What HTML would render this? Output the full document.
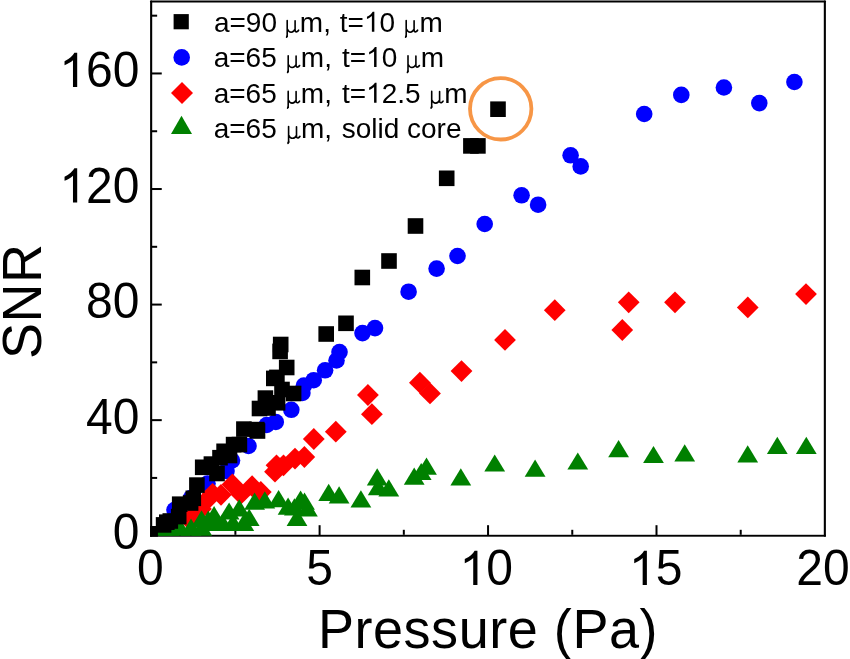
<!DOCTYPE html>
<html><head><meta charset="utf-8"><style>
html,body{margin:0;padding:0;background:#fff;}
body{width:850px;height:659px;overflow:hidden;font-family:"Liberation Sans",sans-serif;}
svg{display:block;}
svg{will-change:transform;}
</style></head><body>
<svg width="850" height="659" viewBox="0 0 850 659">
<rect width="850" height="659" fill="#fff"/>
<defs><clipPath id="pc"><rect x="150.1" y="0.5" width="675.8" height="536.2"/></clipPath></defs>
<g fill="#000">
<rect x="150.1" y="0.5" width="675.8" height="2.1" rx="0.8"/>
<rect x="150.1" y="0.5" width="2.1" height="536.2" rx="0.8"/>
<rect x="823.8" y="0.5" width="2.1" height="536.2" rx="0.8"/>
<rect x="150.1" y="534.8" width="675.8" height="1.9"/>
<rect x="318.60" y="525.20" width="2" height="10"/><rect x="487.05" y="525.20" width="2" height="10"/><rect x="655.50" y="525.20" width="2" height="10"/><rect x="234.38" y="529.80" width="2" height="5"/><rect x="402.82" y="529.80" width="2" height="5"/><rect x="571.27" y="529.80" width="2" height="5"/><rect x="739.72" y="529.80" width="2" height="5"/><rect x="151.15" y="419.14" width="10.6" height="2"/><rect x="151.15" y="303.58" width="10.6" height="2"/><rect x="151.15" y="188.02" width="10.6" height="2"/><rect x="151.15" y="72.46" width="10.6" height="2"/><rect x="151.15" y="476.92" width="6" height="2"/><rect x="151.15" y="361.36" width="6" height="2"/><rect x="151.15" y="245.80" width="6" height="2"/><rect x="151.15" y="130.24" width="6" height="2"/><rect x="151.15" y="14.68" width="6" height="2"/>
</g>
<g clip-path="url(#pc)">
<g fill="#0000ff"><circle cx="794.4" cy="82.0" r="8.3"/><circle cx="759.3" cy="103.1" r="8.3"/><circle cx="723.9" cy="87.5" r="8.3"/><circle cx="681.3" cy="94.9" r="8.3"/><circle cx="644.2" cy="114.0" r="8.3"/><circle cx="580.7" cy="166.4" r="8.3"/><circle cx="570.6" cy="155.3" r="8.3"/><circle cx="538.1" cy="204.7" r="8.3"/><circle cx="521.6" cy="195.3" r="8.3"/><circle cx="484.7" cy="224.0" r="8.3"/><circle cx="457.5" cy="256.0" r="8.3"/><circle cx="436.6" cy="268.6" r="8.3"/><circle cx="408.6" cy="291.7" r="8.3"/><circle cx="375.0" cy="328.1" r="8.3"/><circle cx="362.5" cy="333.1" r="8.3"/><circle cx="339.5" cy="352.1" r="8.3"/><circle cx="336.5" cy="360.5" r="8.3"/><circle cx="325.1" cy="370.3" r="8.3"/><circle cx="313.7" cy="380.2" r="8.3"/><circle cx="303.9" cy="385.5" r="8.3"/><circle cx="302.4" cy="393.0" r="8.3"/><circle cx="291.3" cy="409.8" r="8.3"/><circle cx="275.8" cy="422.0" r="8.3"/><circle cx="266.7" cy="425.0" r="8.3"/><circle cx="248.5" cy="446.0" r="8.3"/><circle cx="232.0" cy="460.5" r="8.3"/><circle cx="226.5" cy="471.0" r="8.3"/><circle cx="207.5" cy="483.5" r="8.3"/><circle cx="191.0" cy="498.0" r="8.3"/><circle cx="174.5" cy="510.0" r="8.3"/></g>
<g fill="#ff0000"><path d="M806.0 283.2L816.9 294.1L806.0 305.0L795.1 294.1Z"/><path d="M747.8 296.5L758.6 307.4L747.8 318.2L736.9 307.4Z"/><path d="M675.0 291.4L685.9 302.3L675.0 313.2L664.1 302.3Z"/><path d="M628.7 291.4L639.6 302.3L628.7 313.2L617.9 302.3Z"/><path d="M622.3 319.1L633.1 330.0L622.3 340.9L611.4 330.0Z"/><path d="M554.8 299.3L565.6 310.2L554.8 321.1L543.9 310.2Z"/><path d="M505.0 329.0L515.9 339.9L505.0 350.8L494.1 339.9Z"/><path d="M461.5 360.2L472.4 371.1L461.5 382.0L450.6 371.1Z"/><path d="M419.9 371.8L430.8 382.7L419.9 393.6L409.0 382.7Z"/><path d="M430.0 382.5L440.9 393.4L430.0 404.2L419.1 393.4Z"/><path d="M367.9 384.1L378.8 395.0L367.9 405.9L357.0 395.0Z"/><path d="M371.9 403.3L382.8 414.2L371.9 425.1L361.0 414.2Z"/><path d="M335.8 420.8L346.7 431.7L335.8 442.6L324.9 431.7Z"/><path d="M313.8 428.1L324.7 439.0L313.8 449.9L302.9 439.0Z"/><path d="M304.4 446.1L315.2 457.0L304.4 467.9L293.5 457.0Z"/><path d="M295.0 447.8L305.9 458.6L295.0 469.5L284.1 458.6Z"/><path d="M283.5 454.4L294.4 465.3L283.5 476.2L272.6 465.3Z"/><path d="M276.5 454.4L287.4 465.3L276.5 476.2L265.6 465.3Z"/><path d="M275.0 460.8L285.9 471.7L275.0 482.6L264.1 471.7Z"/><path d="M260.8 481.1L271.7 492.0L260.8 502.9L250.0 492.0Z"/><path d="M252.1 475.3L262.9 486.2L252.1 497.1L241.2 486.2Z"/><path d="M240.8 483.0L251.7 493.9L240.8 504.8L230.0 493.9Z"/><path d="M232.4 473.5L243.2 484.4L232.4 495.2L221.6 484.4Z"/><path d="M221.0 483.9L231.8 494.8L221.0 505.7L210.2 494.8Z"/><path d="M212.6 482.9L223.4 493.8L212.6 504.7L201.8 493.8Z"/><path d="M207.0 489.1L217.8 500.0L207.0 510.9L196.2 500.0Z"/><path d="M201.0 498.1L211.8 509.0L201.0 519.9L190.2 509.0Z"/><path d="M195.0 503.1L205.8 514.0L195.0 524.9L184.2 514.0Z"/><path d="M190.0 509.1L200.8 520.0L190.0 530.9L179.2 520.0Z"/></g>
<g fill="#008000"><path d="M806.3 436.8L816.7 454.0L795.9 454.0Z"/><path d="M777.3 436.8L787.7 454.0L766.9 454.0Z"/><path d="M747.7 445.3L758.1 462.5L737.3 462.5Z"/><path d="M684.7 444.3L695.1 461.5L674.3 461.5Z"/><path d="M653.5 445.9L663.9 463.1L643.1 463.1Z"/><path d="M618.6 440.0L629.0 457.2L608.2 457.2Z"/><path d="M577.8 452.4L588.2 469.6L567.4 469.6Z"/><path d="M535.1 459.5L545.5 476.7L524.7 476.7Z"/><path d="M494.7 454.4L505.1 471.6L484.3 471.6Z"/><path d="M460.8 468.2L471.2 485.4L450.4 485.4Z"/><path d="M426.5 457.6L436.9 474.8L416.1 474.8Z"/><path d="M421.2 462.9L431.6 480.1L410.8 480.1Z"/><path d="M414.2 467.5L424.6 484.7L403.8 484.7Z"/><path d="M377.2 468.2L387.6 485.4L366.8 485.4Z"/><path d="M378.2 478.0L388.6 495.2L367.8 495.2Z"/><path d="M388.8 479.2L399.2 496.4L378.4 496.4Z"/><path d="M360.9 490.2L371.3 507.4L350.5 507.4Z"/><path d="M339.1 486.2L349.5 503.4L328.7 503.4Z"/><path d="M328.7 483.7L339.1 500.9L318.3 500.9Z"/><path d="M304.5 492.5L314.9 509.7L294.1 509.7Z"/><path d="M307.4 499.3L317.8 516.5L297.0 516.5Z"/><path d="M300.6 490.6L311.0 507.8L290.2 507.8Z"/><path d="M288.1 497.5L298.5 514.7L277.7 514.7Z"/><path d="M294.4 498.3L304.8 515.5L284.0 515.5Z"/><path d="M278.6 490.1L289.0 507.3L268.2 507.3Z"/><path d="M264.8 491.3L275.2 508.5L254.4 508.5Z"/><path d="M254.6 492.5L265.0 509.7L244.2 509.7Z"/><path d="M297.0 508.8L307.4 526.0L286.6 526.0Z"/><path d="M249.2 508.8L259.6 526.0L238.8 526.0Z"/><path d="M239.2 499.2L249.6 516.4L228.8 516.4Z"/><path d="M229.1 502.4L239.5 519.6L218.7 519.6Z"/><path d="M214.1 506.1L224.5 523.3L203.7 523.3Z"/><path d="M201.5 510.2L211.9 527.4L191.1 527.4Z"/><path d="M208.3 510.6L218.7 527.8L197.9 527.8Z"/><path d="M243.8 513.8L254.2 531.0L233.4 531.0Z"/><path d="M233.0 513.8L243.4 531.0L222.6 531.0Z"/><path d="M222.5 513.8L232.9 531.0L212.1 531.0Z"/><path d="M212.5 513.8L222.9 531.0L202.1 531.0Z"/><path d="M201.7 518.5L212.1 535.7L191.3 535.7Z"/><path d="M191.0 518.5L201.4 535.7L180.6 535.7Z"/><path d="M180.0 518.5L190.4 535.7L169.6 535.7Z"/><path d="M169.0 518.5L179.4 535.7L158.6 535.7Z"/><path d="M162.0 518.5L172.4 535.7L151.6 535.7Z"/></g>
<g fill="#000"><rect x="490.2" y="101.4" width="15.6" height="15.6"/><rect x="470.1" y="138.1" width="15.6" height="15.6"/><rect x="463.1" y="138.1" width="15.6" height="15.6"/><rect x="438.9" y="170.5" width="15.6" height="15.6"/><rect x="407.7" y="218.2" width="15.6" height="15.6"/><rect x="381.2" y="253.2" width="15.6" height="15.6"/><rect x="354.5" y="269.7" width="15.6" height="15.6"/><rect x="338.2" y="315.5" width="15.6" height="15.6"/><rect x="318.4" y="326.2" width="15.6" height="15.6"/><rect x="272.9" y="336.7" width="15.6" height="15.6"/><rect x="272.3" y="343.6" width="15.6" height="15.6"/><rect x="278.9" y="359.7" width="15.6" height="15.6"/><rect x="266.0" y="370.6" width="15.6" height="15.6"/><rect x="269.1" y="369.6" width="15.6" height="15.6"/><rect x="274.2" y="381.7" width="15.6" height="15.6"/><rect x="285.8" y="385.7" width="15.6" height="15.6"/><rect x="257.6" y="390.3" width="15.6" height="15.6"/><rect x="251.7" y="400.7" width="15.6" height="15.6"/><rect x="269.8" y="395.0" width="15.6" height="15.6"/><rect x="260.2" y="400.2" width="15.6" height="15.6"/><rect x="236.1" y="421.3" width="15.6" height="15.6"/><rect x="249.0" y="421.8" width="15.6" height="15.6"/><rect x="249.7" y="423.2" width="15.6" height="15.6"/><rect x="225.8" y="436.8" width="15.6" height="15.6"/><rect x="231.6" y="436.8" width="15.6" height="15.6"/><rect x="221.7" y="447.7" width="15.6" height="15.6"/><rect x="216.3" y="443.5" width="15.6" height="15.6"/><rect x="212.2" y="449.9" width="15.6" height="15.6"/><rect x="203.6" y="456.3" width="15.6" height="15.6"/><rect x="194.9" y="459.5" width="15.6" height="15.6"/><rect x="209.2" y="465.7" width="15.6" height="15.6"/><rect x="189.1" y="477.3" width="15.6" height="15.6"/><rect x="185.5" y="490.5" width="15.6" height="15.6"/><rect x="182.8" y="495.2" width="15.6" height="15.6"/><rect x="171.9" y="496.4" width="15.6" height="15.6"/><rect x="170.9" y="508.8" width="15.6" height="15.6"/><rect x="162.5" y="513.2" width="15.6" height="15.6"/><rect x="159.0" y="514.4" width="15.6" height="15.6"/><rect x="155.8" y="517.1" width="15.6" height="15.6"/><rect x="142.3" y="526.0" width="15.6" height="15.6"/></g>
</g>
<circle cx="500.7" cy="108.8" r="30.7" fill="none" stroke="#f79646" stroke-width="3.8"/>
<g font-family="Liberation Sans, sans-serif" fill="#000">
<text transform="translate(137.00,585.00) scale(1,1.04)" font-size="48" >0</text><text transform="translate(306.25,585.00) scale(1,1.04)" font-size="48" >5</text><path transform="translate(459.55,585.00) scale(0.02344,-0.02344)" d="M763 0L583 0L583 1147Q518 1085 412 1023Q306 961 223 930L223 1104Q372 1174 484 1274Q596 1374 643 1466L763 1466Z"/><text transform="translate(486.25,585.00) scale(1,1.04)" font-size="48" >0</text><path transform="translate(629.00,585.00) scale(0.02344,-0.02344)" d="M763 0L583 0L583 1147Q518 1085 412 1023Q306 961 223 930L223 1104Q372 1174 484 1274Q596 1374 643 1466L763 1466Z"/><text transform="translate(655.70,585.00) scale(1,1.04)" font-size="48" >5</text><text transform="translate(796.25,585.00) scale(1,1.04)" font-size="48" >20</text>
<text transform="translate(112.70,549.30) scale(1,1.04)" font-size="48" >0</text><text transform="translate(86.01,433.74) scale(1,1.04)" font-size="48" >40</text><text transform="translate(86.01,318.18) scale(1,1.04)" font-size="48" >80</text><path transform="translate(59.31,202.62) scale(0.02344,-0.02344)" d="M763 0L583 0L583 1147Q518 1085 412 1023Q306 961 223 930L223 1104Q372 1174 484 1274Q596 1374 643 1466L763 1466Z"/><text transform="translate(86.01,202.62) scale(1,1.04)" font-size="48" >20</text><path transform="translate(59.31,87.06) scale(0.02344,-0.02344)" d="M763 0L583 0L583 1147Q518 1085 412 1023Q306 961 223 930L223 1104Q372 1174 484 1274Q596 1374 643 1466L763 1466Z"/><text transform="translate(86.01,87.06) scale(1,1.04)" font-size="48" >60</text>
</g>
<text transform="translate(317.9,647.7) scale(1,1.03)" letter-spacing="0.55" font-family="Liberation Sans, sans-serif" font-size="54" fill="#000">Pressure (Pa)</text>
<text transform="translate(40.7,301.2) rotate(-90) scale(1,1.03)" letter-spacing="0.5" text-anchor="middle" font-family="Liberation Sans, sans-serif" font-size="54" fill="#000">SNR</text>
<g fill="#000">
<rect x="173.6" y="14.1" width="15.2" height="15.2"/>
</g>
<circle cx="181.7" cy="57.4" r="8.3" fill="#0000ff"/>
<path d="M182 81.9L193 92.9L182 103.9L171 92.9Z" fill="#ff0000"/>
<path d="M181.5 115.8L192 134.1L171 134.1Z" fill="#008000"/>
<g font-family="Liberation Sans, sans-serif" fill="#000">
<text transform="translate(213.91,31.80) scale(1,1.02)" font-size="28.0" >a=90</text>
<path transform="translate(286.40,31.80)" d="M0.80 -11.30L0.80 3.00Q0.75 4.60 0.20 5.40M1.00 -2.60Q2.40 0.50 4.80 0.40Q7.40 0.30 8.70 -2.60M8.70 -11.10L8.70 -1.60Q8.90 0.40 10.40 0.00Q11.40 -0.40 12.20 -1.60" fill="none" stroke="#000" stroke-width="1.6" stroke-linecap="round"/><path transform="translate(286.40,31.80)" d="M0.1 5.6L-0.35 4.2L1.6 3.2L1.55 5.0Z" fill="#000"/>
<text transform="translate(299.84,31.80) scale(1,1.02)" font-size="28.0" >m,</text>
<text transform="translate(339.78,31.80) scale(1,1.02)" font-size="28.0" >t=</text><path transform="translate(363.91,31.80) scale(0.01367,-0.01367)" d="M763 0L583 0L583 1147Q518 1085 412 1023Q306 961 223 930L223 1104Q372 1174 484 1274Q596 1374 643 1466L763 1466Z"/><text transform="translate(379.48,31.80) scale(1,1.02)" font-size="28.0" >0</text>
<path transform="translate(405.40,31.80)" d="M0.80 -11.30L0.80 3.00Q0.75 4.60 0.20 5.40M1.00 -2.60Q2.40 0.50 4.80 0.40Q7.40 0.30 8.70 -2.60M8.70 -11.10L8.70 -1.60Q8.90 0.40 10.40 0.00Q11.40 -0.40 12.20 -1.60" fill="none" stroke="#000" stroke-width="1.6" stroke-linecap="round"/><path transform="translate(405.40,31.80)" d="M0.1 5.6L-0.35 4.2L1.6 3.2L1.55 5.0Z" fill="#000"/>
<text transform="translate(419.54,31.80) scale(1,1.02)" font-size="28.0" >m</text>
<text transform="translate(213.71,67.10) scale(1,1.02)" font-size="28.0" >a=65</text>
<path transform="translate(287.40,67.10)" d="M0.80 -11.30L0.80 3.00Q0.75 4.60 0.20 5.40M1.00 -2.60Q2.40 0.50 4.80 0.40Q7.40 0.30 8.70 -2.60M8.70 -11.10L8.70 -1.60Q8.90 0.40 10.40 0.00Q11.40 -0.40 12.20 -1.60" fill="none" stroke="#000" stroke-width="1.6" stroke-linecap="round"/><path transform="translate(287.40,67.10)" d="M0.1 5.6L-0.35 4.2L1.6 3.2L1.55 5.0Z" fill="#000"/>
<text transform="translate(300.84,67.10) scale(1,1.02)" font-size="28.0" >m,</text>
<text transform="translate(341.98,67.10) scale(1,1.02)" font-size="28.0" >t=</text><path transform="translate(366.11,67.10) scale(0.01367,-0.01367)" d="M763 0L583 0L583 1147Q518 1085 412 1023Q306 961 223 930L223 1104Q372 1174 484 1274Q596 1374 643 1466L763 1466Z"/><text transform="translate(381.68,67.10) scale(1,1.02)" font-size="28.0" >0</text>
<path transform="translate(407.20,67.10)" d="M0.80 -11.30L0.80 3.00Q0.75 4.60 0.20 5.40M1.00 -2.60Q2.40 0.50 4.80 0.40Q7.40 0.30 8.70 -2.60M8.70 -11.10L8.70 -1.60Q8.90 0.40 10.40 0.00Q11.40 -0.40 12.20 -1.60" fill="none" stroke="#000" stroke-width="1.6" stroke-linecap="round"/><path transform="translate(407.20,67.10)" d="M0.1 5.6L-0.35 4.2L1.6 3.2L1.55 5.0Z" fill="#000"/>
<text transform="translate(420.84,67.10) scale(1,1.02)" font-size="28.0" >m</text>
<text transform="translate(213.71,102.70) scale(1,1.02)" font-size="28.0" >a=65</text>
<path transform="translate(287.40,102.70)" d="M0.80 -11.30L0.80 3.00Q0.75 4.60 0.20 5.40M1.00 -2.60Q2.40 0.50 4.80 0.40Q7.40 0.30 8.70 -2.60M8.70 -11.10L8.70 -1.60Q8.90 0.40 10.40 0.00Q11.40 -0.40 12.20 -1.60" fill="none" stroke="#000" stroke-width="1.6" stroke-linecap="round"/><path transform="translate(287.40,102.70)" d="M0.1 5.6L-0.35 4.2L1.6 3.2L1.55 5.0Z" fill="#000"/>
<text transform="translate(300.84,102.70) scale(1,1.02)" font-size="28.0" >m,</text>
<text transform="translate(341.98,102.70) scale(1,1.02)" font-size="28.0" >t=</text><path transform="translate(366.11,102.70) scale(0.01367,-0.01367)" d="M763 0L583 0L583 1147Q518 1085 412 1023Q306 961 223 930L223 1104Q372 1174 484 1274Q596 1374 643 1466L763 1466Z"/><text transform="translate(381.68,102.70) scale(1,1.02)" font-size="28.0" >2.5</text>
<path transform="translate(430.90,102.70)" d="M0.80 -11.30L0.80 3.00Q0.75 4.60 0.20 5.40M1.00 -2.60Q2.40 0.50 4.80 0.40Q7.40 0.30 8.70 -2.60M8.70 -11.10L8.70 -1.60Q8.90 0.40 10.40 0.00Q11.40 -0.40 12.20 -1.60" fill="none" stroke="#000" stroke-width="1.6" stroke-linecap="round"/><path transform="translate(430.90,102.70)" d="M0.1 5.6L-0.35 4.2L1.6 3.2L1.55 5.0Z" fill="#000"/>
<text transform="translate(444.14,102.70) scale(1,1.02)" font-size="28.0" >m</text>
<text transform="translate(213.71,137.90) scale(1,1.02)" font-size="28.0" >a=65</text>
<path transform="translate(287.80,137.90)" d="M0.80 -11.30L0.80 3.00Q0.75 4.60 0.20 5.40M1.00 -2.60Q2.40 0.50 4.80 0.40Q7.40 0.30 8.70 -2.60M8.70 -11.10L8.70 -1.60Q8.90 0.40 10.40 0.00Q11.40 -0.40 12.20 -1.60" fill="none" stroke="#000" stroke-width="1.6" stroke-linecap="round"/><path transform="translate(287.80,137.90)" d="M0.1 5.6L-0.35 4.2L1.6 3.2L1.55 5.0Z" fill="#000"/>
<text transform="translate(301.04,137.90) scale(1,1.02)" font-size="28.0" >m,</text>
<text transform="translate(341.72,137.90) scale(1,1.02)" font-size="28.0" >solid core</text>
</g>
</svg>
</body></html>
